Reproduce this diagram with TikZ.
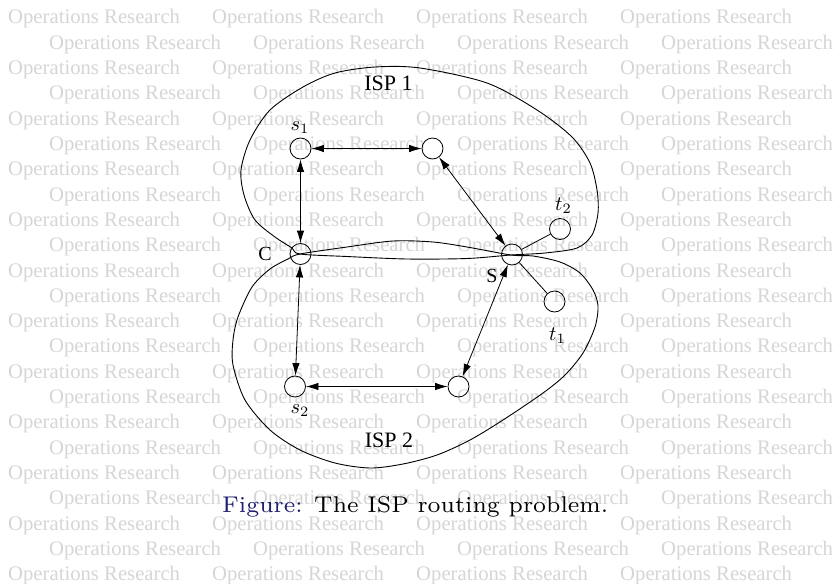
\documentclass[tikz,border=0pt]{standalone}
\usepackage{fontspec}
\usepackage{graphicx}
\usetikzlibrary{arrows.meta}
\newfontfamily\timesfont{Liberation Serif}
\definecolor{capblue}{RGB}{30,30,110}
\definecolor{wmgray}{RGB}{214,214,214}
\newcommand{\mathlabel}[1]{\scalebox{2.05}{$#1$}}

\begin{document}
\begin{tikzpicture}[x=1pt,y=-1pt,
  vtx/.style={circle,draw,line width=0.8pt,minimum size=21pt,inner sep=0pt},
  link/.style={line width=0.8pt,>={Latex[length=12.5pt,width=7.5pt]},<->},
  plainlink/.style={line width=0.8pt},
  region/.style={line width=0.9pt},
  wm/.style={text=wmgray,font=\timesfont\fontsize{20.7}{24}\selectfont,anchor=base west,inner sep=0pt},
  isp/.style={font=\timesfont\fontsize{22}{26}\selectfont,anchor=base,inner sep=0pt},
  tag/.style={font=\timesfont\fontsize{20}{24}\selectfont,anchor=base,inner sep=0pt},
  mlab/.style={anchor=base,inner sep=0pt}]

% canvas
\useasboundingbox (0,0) rectangle (834,583);
\fill[white] (0,0) rectangle (834,583);

% background text pattern
\foreach \k in {0,...,22}{
  \pgfmathsetmacro\wy{24+25.3*\k}
  \pgfmathsetmacro\wx{8+41*mod(\k,2)}
  \foreach \j in {0,...,3}{
    \node[wm] (wm\k-\j) at ({\wx+204*\j},\wy) {Operations Research};
  }
}

% ISP 1 boundary
\draw[region] plot[smooth cycle] coordinates {
  (300,254) (347,256.5) (407,259) (467,258.5) (511,255) (545,253)
  (577,248) (592,235) (598,213) (597,190) (590,163) (572,137)
  (537,110) (487,83) (420,68) (375,67) (335,73) (303,87) (270,110)
  (250,140) (241,170) (244,195) (255,220) (275,237) (292,248)};

% ISP 2 boundary
\draw[region] plot[smooth cycle] coordinates {
  (300,254) (347,247) (393,241) (433,242) (467,247) (511,255)
  (533,256) (560,262) (580,273) (593,290) (598,306) (595,327)
  (583,353) (565,375) (543,393) (503,420) (470,440) (437,455)
  (403,464) (370,468) (335,463) (300,450) (270,430) (245,400)
  (233,365) (233,340) (238,317) (252,287) (270,269) (288,259)};

% routers
\node[vtx] (s1) at (300.5,148.5) {};
\node[vtx] (m1) at (432.5,148.5) {};
\node[vtx] (C)  at (300.5,254) {};
\node[vtx] (S)  at (512,254.5) {};
\node[vtx] (t2) at (560,229) {};
\node[vtx] (t1) at (554.5,301.5) {};
\node[vtx] (s2) at (295,386.5) {};
\node[vtx] (m2) at (458.5,386.5) {};

% links
\draw[link] (s1) -- (m1);
\draw[link] (s1) -- (C);
\draw[link] (m1) -- (S);
\draw[link] (C) -- (s2);
\draw[link] (s2) -- (m2);
\draw[link] (m2) -- (S);
\draw[plainlink] (S) -- (t2);
\draw[plainlink] (S) -- (t1);

% labels
\node[isp] (isp1) at (388.5,91) {ISP 1};
\node[isp] (isp2) at (389,447) {ISP 2};
\node[tag] (labC) at (265,260) {C};
\node[tag] (labS) at (492,282) {S};
\node[mlab] (labs1) at (300,130) {\mathlabel{s_1}};
\node[mlab] (labt2) at (563.5,210) {\mathlabel{t_2}};
\node[mlab] (labt1) at (557.5,340) {\mathlabel{t_1}};
\node[mlab] (labs2) at (300,413) {\mathlabel{s_2}};

% caption
\node[anchor=base west,inner sep=0pt] (cap) at (222,512)
  {\resizebox{386pt}{!}{\fontsize{7}{8}\selectfont\textcolor{capblue}{Figure:}\hspace{3.5pt}The ISP routing problem.}};
\end{tikzpicture}
\end{document}
